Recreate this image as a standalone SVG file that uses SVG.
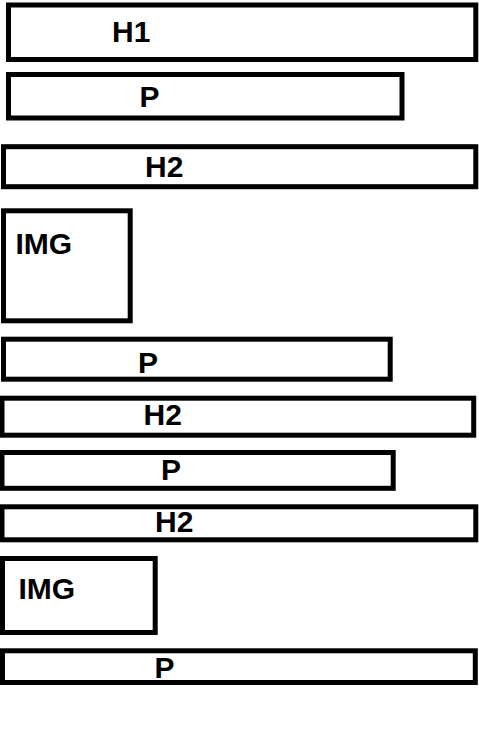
<svg xmlns="http://www.w3.org/2000/svg" width="479" height="730" viewBox="0 0 479 730">
<style>
.box{fill:#fff;stroke:#000;stroke-width:5}
.lbl{font-family:"Liberation Sans",Arial,sans-serif;font-weight:bold;font-size:30px;fill:#000}
</style>
<rect width="479" height="730" fill="#fff"/>
<g id="h1"><rect class="box" x="8.5" y="5" width="467.3" height="54.5"/><text class="lbl" x="112" y="42">H1</text></g>
<g id="p1"><rect class="box" x="8.5" y="74.5" width="393.5" height="43.5"/><text class="lbl" x="139.5" y="107">P</text></g>
<g id="h2a"><rect class="box" x="3.5" y="146.7" width="472.3" height="40"/><text class="lbl" x="145" y="177">H2</text></g>
<g id="img1"><rect class="box" x="3.5" y="210.8" width="126.7" height="110"/><text class="lbl" x="15.5" y="254">IMG</text></g>
<g id="p2"><rect class="box" x="3.5" y="339.2" width="386.7" height="40"/><text class="lbl" x="138" y="372.5">P</text></g>
<g id="h2b"><rect class="box" x="2" y="398.2" width="471.7" height="37"/><text class="lbl" x="143.5" y="425">H2</text></g>
<g id="p3"><rect class="box" x="2" y="452.5" width="391.2" height="35.8"/><text class="lbl" x="161" y="480">P</text></g>
<g id="h2c"><rect class="box" x="2" y="506.8" width="473.8" height="33"/><text class="lbl" x="155" y="532.3">H2</text></g>
<g id="img2"><rect class="box" x="2.5" y="558.5" width="152.7" height="74"/><text class="lbl" x="18.5" y="599.3">IMG</text></g>
<g id="p4"><rect class="box" x="2.5" y="650.8" width="472.8" height="31.7"/><text class="lbl" x="154.5" y="677.7">P</text></g>
<g id="connectors"></g>
</svg>
